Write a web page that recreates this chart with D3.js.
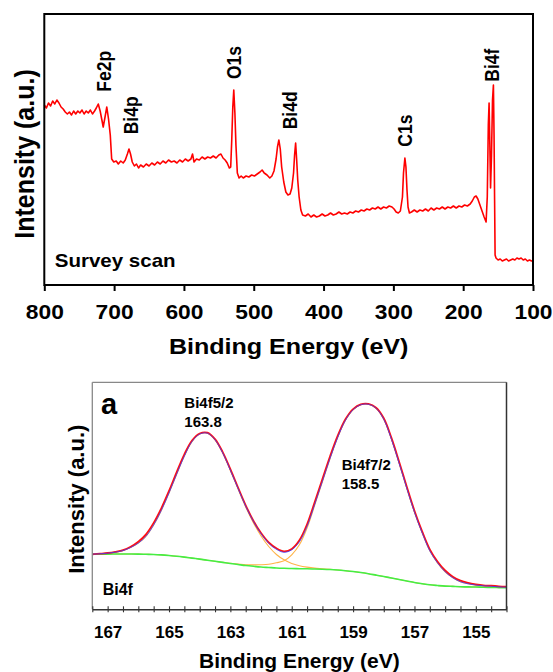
<!DOCTYPE html>
<html>
<head>
<meta charset="utf-8">
<script src="https://cdn.jsdelivr.net/npm/d3@7"></script>
<style>
  body { margin: 0; background: #fff; }
  text { font-family: Arial, "Liberation Sans", sans-serif; font-weight: bold; fill: #000; }
</style>
</head>
<body>
<div id="chart"></div>
<script>
// ---- survey scan: [binding energy (eV), intensity (a.u.)]
const surveyScan = [
  [800,180],[797,177],[794,182],[791,179],[788,184],[785,181],[782,185],[779,182],[776,178],[773,176],
  [770,173],[767,171],[764,173],[761,170],[758,174],[755,171],[752,174],[749,172],[746,175],[743,171],
  [740,174],[737,172],[734,175],[731,171],[728,174],[725.5,177],[722.7,181],[720,174],[717.5,165],[715.6,158],
  [713,168],[710.5,178],[708,166],[705.5,150],[703.5,126],[700.5,123],[697,124],[694,121],[690.5,124],[687,122],
  [684,125],[681,131],[678.7,136],[676.5,131],[674,123],[671,119],[668,121],[665,117],[662,120],[658,118],
  [654,121],[650,119],[646,122],[642,120],[638,123],[634,121],[630,124],[626,122],[622,125],[618,123],
  [614,124],[610,122],[606,125],[602,123],[598,126],[594,124],[590,126],[587.7,131],[585.5,123],[582,126],
  [578,125],[574,128],[570,126],[566,128],[562,127],[558,129],[554,127],[550,130],[547,131],[544,127],
  [541,125],[538,122],[535,117],[533,118],[531.5,145],[530,178],[528.6,195],[527,172],[525.5,140],[523.5,112],
  [521,107],[518,109],[515,107],[511,109],[507,108],[503,110],[499,109],[495,111],[491,113],[488,115],
  [485,112],[481,110],[477,107],[474,109],[471,114],[468,126],[466,138],[464,145],[462,136],[460,118],
  [457,103],[454,93],[451,90],[448,91],[445.5,97],[443,112],[441.5,130],[440,142],[438.5,125],[437,105],
  [435,88],[432.5,75],[430,70],[426,69],[422,71],[418,68],[414,70],[410,68],[406,69],[402,71],
  [398,69],[394,70],[390,72],[386,70],[382,71],[378,73],[374,71],[370,72],[366,71],[362,73],
  [358,72],[354,74],[350,73],[346,75],[342,74],[338,76],[334,75],[330,77],[326,76],[322,78],
  [318,76],[314,78],[310,77],[306,79],[302,78],[299,76],[296,73],[293,72],[290,74],[287,88],
  [285.5,112],[283.5,127],[282,118],[280.5,95],[279,78],[277,72],[274,73],[270,75],[266,73],[262,75],
  [258,74],[254,76],[250,74],[246,77],[242,75],[238,77],[234,76],[230,78],[226,76],[222,78],
  [218,77],[214,79],[210,77],[206,79],[202,78],[198,80],[194,79],[190,81],[187,84],[184,88],
  [181.5,89],[179,86],[176,80],[173,74],[170,68],[167.2,63],[165.5,88],[164,160],[162.9,182],[162,148],
  [160.8,97],[159.5,128],[158,185],[156.7,200],[155.8,150],[155,85],[154.3,30],[153,27],[150,25],[147,26],
  [144,24],[141,25],[138,26],[135,24],[132,25],[129,26],[126,25],[123,27],[120,26],[117,27],
  [114,25],[111,26],[108,24],[105,25],[102,24],[100,24]
]
const surveyTicks = [800, 700, 600, 500, 400, 300, 200, 100]
const surveyPeakNames = ["Fe2p", "Bi4p", "O1s", "Bi4d", "C1s", "Bi4f"]
const surveyPeakEnergy = [715, 676, 529, 449, 283, 159]

// ---- Bi4f high resolution
const bi4fEnergy = [
  167.5,167.25,167,166.75,166.5,166.25,166,165.75,165.5,165.25,
  165,164.75,164.5,164.25,164,163.75,163.5,163.25,163,162.75,
  162.5,162.25,162,161.75,161.5,161.25,161,160.75,160.5,160.25,
  160,159.75,159.5,159.25,159,158.75,158.5,158.25,158,157.75,
  157.5,157.25,157,156.75,156.5,156.25,156,155.75,155.5,155.25,
  155,154.75,154.5,154.25,154
]
const bi4fRaw = [
  55.0,55.6,56.3,57.5,59.2,62.6,67.6,75.0,86.4,101.0,
  118.4,137.2,155.0,168.8,175.8,176.6,170.2,157.2,140.2,121.8,
  104.0,88.6,76.2,66.8,61.0,58.0,60.4,69.0,85.0,107.2,
  130.2,153.0,173.6,190.0,200.2,205.0,205.4,201.6,191.0,171.4,
  147.6,122.6,98.6,78.0,60.0,47.8,38.8,32.6,28.6,26.4,
  25.0,24.0,23.6,23.0,22.6
]
const bi4fFit = [
  55.2,55.5,56.1,57.1,58.7,61.8,66.2,73.0,84.3,98.9,
  116.3,135.1,153.2,167.7,175.2,176.1,169.5,156.4,139.1,120.8,
  103.0,87.9,75.5,66.0,60.0,57.0,59.5,67.5,83.0,105.0,
  128.0,151.0,172.0,189.0,199.5,204.5,205.0,201.0,190.0,170.0,
  146.0,121.0,97.0,76.5,58.5,46.5,37.5,31.5,27.5,25.5,
  24.2,23.5,23.0,22.5,22.0
]
const bi4f52 = [
  55.2,55.5,56.1,57.1,58.7,61.8,66.2,73.0,84.3,98.9,
  116.3,135.1,153.2,167.7,175.2,176.1,169.5,156.4,138.8,120.3,
  102.3,86.5,73.3,62.8,54.8,49.5,45.8,43.6,42.2,41.2,
  40.6,40.0,39.3,38.6,37.8,36.8,35.6,34.2,32.8,31.3,
  29.8,28.3,26.8,25.6,24.5,23.8,23.2,22.9,22.6,22.4,
  22.3,22.2,22.1,22.0,22.0
]
const bi4f72 = [
  55.0,55.1,55.2,55.3,55.3,55.3,55.2,55.0,54.8,54.4,
  53.8,53.1,52.2,51.2,50.2,49.1,48.0,46.9,46.1,45.3,
  44.5,44.4,44.5,45.0,46.5,48.5,54.5,64.5,81.3,104.1,
  127.5,150.8,172.0,189.0,199.5,204.5,205.0,201.0,190.0,170.0,
  146.0,121.0,97.0,76.5,58.5,46.5,37.5,31.5,27.5,25.5,
  24.2,23.5,23.0,22.5,22.0
]
const bi4fBackground = [
  55.0,55.1,55.2,55.3,55.3,55.3,55.2,55.0,54.8,54.4,
  53.8,53.1,52.2,51.2,50.2,49.1,48.0,46.9,45.8,44.8,
  43.8,43.0,42.3,41.8,41.3,41.0,40.8,40.6,40.5,40.3,
  40.1,39.8,39.3,38.6,37.8,36.8,35.6,34.2,32.8,31.3,
  29.8,28.3,26.8,25.6,24.5,23.8,23.2,22.9,22.6,22.4,
  22.3,22.0,21.8,21.7,21.6
]
const bi4fLabelTicks = [167, 165, 163, 161, 159, 157, 155]

const W = 553, H = 672
const svg = d3.select("#chart").append("svg")
  .attr("width", W).attr("height", H)

svg.append("rect").attr("width", W).attr("height", H).attr("fill", "#fff")

// ================= survey panel =================
const boxS = { left: 44.3, right: 533, top: 14, bottom: 285 }
const STRETCH = 1.14

const xS = d3.scaleLinear().domain([800, 100]).range([boxS.left, boxS.right])
const yS = d3.scaleLinear().domain([0, 271]).range([boxS.bottom, boxS.top])

const gS = svg.append("g")

gS.append("path")
  .datum(surveyScan)
  .attr("fill", "none")
  .attr("stroke", "#ff0000")
  .attr("stroke-width", 1.6)
  .attr("stroke-linejoin", "round")
  .attr("d", d3.line().x(d => xS(d[0])).y(d => yS(d[1])))

gS.append("rect")
  .attr("x", boxS.left).attr("y", boxS.top)
  .attr("width", boxS.right - boxS.left).attr("height", boxS.bottom - boxS.top)
  .attr("fill", "none").attr("stroke", "#000").attr("stroke-width", 2)

const xAxisS = gS.append("g")
  .attr("transform", `translate(0, ${boxS.bottom})`)
  .call(d3.axisBottom(xS).tickValues(surveyTicks).tickSize(6).tickSizeOuter(0))
xAxisS.select(".domain").remove()
xAxisS.selectAll(".tick line").attr("stroke", "#000").attr("stroke-width", 2)
xAxisS.selectAll(".tick text")
  .attr("y", 34.3).attr("dy", 0)
  .attr("font-size", "20px")
  .attr("font-family", null)
  .attr("transform", `scale(${STRETCH},1)`)

// peak labels (rotated)
const peakLabelBase = [91.7, 134.3, 79, 129.3, 146.7, 81.7]
gS.selectAll(".peak")
  .data(surveyPeakNames)
  .enter().append("text")
  .attr("class", "peak")
  .attr("transform", (d, i) => `translate(${xS(surveyPeakEnergy[i])}, ${peakLabelBase[i]}) rotate(-90) scale(1,${STRETCH})`)
  .attr("dy", "0.36em")
  .attr("text-anchor", "start")
  .attr("font-size", "17.5px")
  .text(d => d)

gS.append("text")
  .attr("transform", `translate(54.7, 267) scale(${STRETCH},1)`)
  .attr("font-size", "18px")
  .text("Survey scan")

gS.append("text")
  .attr("transform", `translate(34.2, 154) rotate(-90) scale(1,${STRETCH})`)
  .attr("text-anchor", "middle")
  .attr("font-size", "25px")
  .text("Intensity (a.u.)")

gS.append("text")
  .attr("transform", `translate(${(boxS.left + boxS.right) / 2}, 354) scale(${STRETCH},1)`)
  .attr("text-anchor", "middle")
  .attr("font-size", "22px")
  .text("Binding Energy (eV)")

// ================= Bi4f panel =================
const boxB = { left: 92.3, right: 506.5, top: 382.3, bottom: 609.3 }

const xB = d3.scaleLinear().domain([167.5, 154]).range([boxB.left, boxB.right])
const yB = d3.scaleLinear().domain([0, 227]).range([boxB.bottom, boxB.top])

const gB = svg.append("g")

const lineB = vals => d3.line()
  .curve(d3.curveCatmullRom)
  .x((d, i) => xB(bi4fEnergy[i]))
  .y(d => yB(d))(vals)

// component peaks first, then the background on top, then fit and raw data
const series = [
  { vals: bi4f52, color: "#ffb347", width: 1.1, op: 1 },
  { vals: bi4f72, color: "#ffb347", width: 1.1, op: 1 },
  { vals: bi4fBackground, color: "#44ee44", width: 1.6, op: 1 },
  { vals: bi4fRaw, color: "#ff1010", width: 1.8, op: 1 },
  { vals: bi4fFit, color: "#3b3bff", width: 1.0, op: 0.8 }
]
gB.selectAll(".curve")
  .data(series)
  .enter().append("path")
  .attr("class", "curve")
  .attr("fill", "none")
  .attr("stroke", d => d.color)
  .attr("stroke-width", d => d.width)
  .attr("stroke-opacity", d => d.op)
  .attr("d", d => lineB(d.vals))

// frame
gB.append("line").attr("x1", boxB.left).attr("x2", boxB.right).attr("y1", boxB.top).attr("y2", boxB.top)
  .attr("stroke", "#888").attr("stroke-width", 1.3)
gB.append("line").attr("x1", boxB.left).attr("x2", boxB.left).attr("y1", boxB.top).attr("y2", boxB.bottom)
  .attr("stroke", "#888").attr("stroke-width", 1.3)
gB.append("line").attr("x1", boxB.right).attr("x2", boxB.right).attr("y1", boxB.top).attr("y2", boxB.bottom)
  .attr("stroke", "#333").attr("stroke-width", 1.5)

const minorTicks = xB.ticks(27).filter(v => v >= 154 && v <= 167.5)
const xAxisB = gB.append("g")
  .attr("transform", `translate(0, ${boxB.bottom})`)
  .call(d3.axisBottom(xB).tickValues(minorTicks).tickSize(3).tickSizeOuter(0)
    .tickFormat(v => bi4fLabelTicks.includes(v) ? d3.format("d")(v) : ""))
xAxisB.select(".domain").attr("stroke", "#333").attr("stroke-width", 1.6)
xAxisB.selectAll(".tick line").attr("y1", -3).attr("y2", 3).attr("stroke", "#333").attr("stroke-width", 1.1)
xAxisB.selectAll(".tick text")
  .attr("y", 29).attr("dy", 0)
  .attr("font-size", "17px")
  .attr("font-family", null)

gB.append("text")
  .attr("x", 101).attr("y", 414.3)
  .attr("font-size", "29px")
  .text("a")

const peakText = [
  { x: 184.3, y: 407.7, lines: ["Bi4f5/2", "163.8"] },
  { x: 341.7, y: 470, lines: ["Bi4f7/2", "158.5"] }
]
peakText.forEach(p => {
  p.lines.forEach((t, i) => {
    gB.append("text")
      .attr("x", p.x).attr("y", p.y + i * 18.8)
      .attr("font-size", "15px")
      .text(t)
  })
})

gB.append("text")
  .attr("x", 102.7).attr("y", 595)
  .attr("font-size", "16px")
  .text("Bi4f")

gB.append("text")
  .attr("transform", "translate(83.5, 499.2) rotate(-90)")
  .attr("text-anchor", "middle")
  .attr("font-size", "22px")
  .text("Intensity (a.u.)")

gB.append("text")
  .attr("x", (boxB.left + boxB.right) / 2).attr("y", 668.3)
  .attr("text-anchor", "middle")
  .attr("font-size", "21px")
  .text("Binding Energy (eV)")
</script>
</body>
</html>
